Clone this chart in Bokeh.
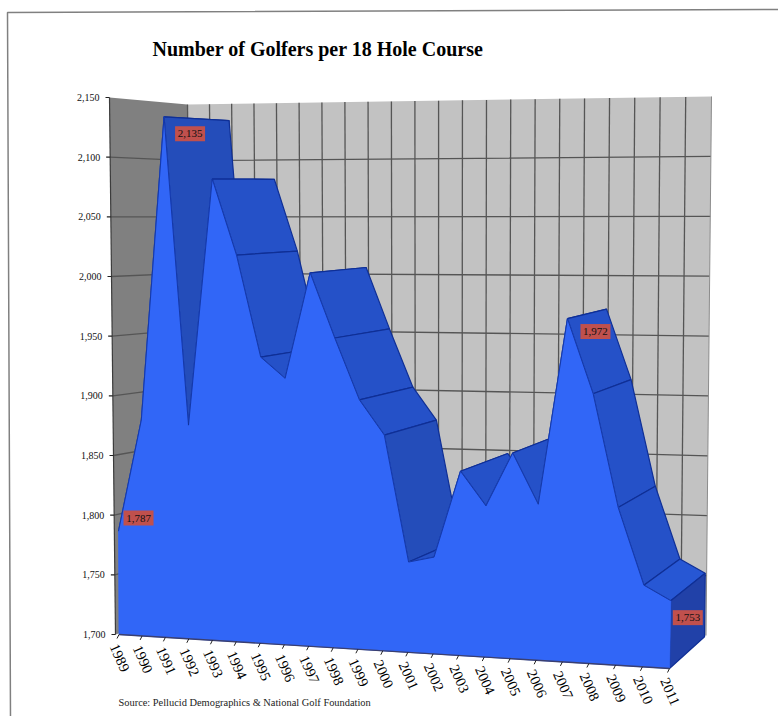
from bokeh.core.properties import value
from bokeh.embed import file_html
from bokeh.models import ColumnDataSource, Range1d
from bokeh.plotting import figure
from bokeh.resources import INLINE

TITLE = "Number of Golfers per 18 Hole Course"
SOURCE_NOTE = "Source:  Pellucid Demographics & National Golf Foundation"
years = [1989, 1990, 1991, 1992, 1993, 1994, 1995, 1996, 1997, 1998, 1999, 2000,
         2001, 2002, 2003, 2004, 2005, 2006, 2007, 2008, 2009, 2010, 2011]
golfers = [1787, 1881, 2135, 1878, 2083, 2020, 1936, 1919, 2006, 1953, 1903, 1875,
           1773, 1778, 1848, 1821, 1864, 1824, 1972, 1913, 1824, 1764, 1753]
labelled_years = [1989, 1991, 2007, 2011]
label_texts = ["1,787", "2,135", "1,972", "1,753"]
y_ticks = [1700, 1750, 1800, 1850, 1900, 1950, 2000, 2050, 2100, 2150]
y_tick_labels = ["1,700", "1,750", "1,800", "1,850", "1,900", "1,950", "2,000", "2,050", "2,100", "2,150"]

SERIF = value("Liberation Serif")
FRONT = "#3166F7"
TOP = "#2551C8"
TOP_DEEP = "#244DBA"
TOP_END = "#2757D4"
SIDE = "#2141A8"
EDGE = "#0F2F96"
WALL_BACK = "#C2C2C2"
WALL_LEFT = "#808080"
GRID = "#555555"
LABEL_BOX = "#C0504D"

V_MIN, V_MAX = y_ticks[0], y_ticks[-1]
LAST = len(years) - 1
# Pixel positions of the perspective box: (bottom-left, bottom-right, top-left, top-right).
FRONT_PLANE = ((118.5, 634), (669, 668), (116, 99), (680, 92))
BACK_PLANE = ((192, 610), (705.5, 635), (187, 104), (711, 96))
WALL_FRONT_EDGE = ((115, 634), (109, 97))
DEPTH = 0.96


def warp(t, a):
    return a * t / (1 + (a - 1) * t)


def on_plane(plane, t, u):
    bl, br, tl, tr = plane
    low = [bl[k] + (br[k] - bl[k]) * t for k in (0, 1)]
    high = [tl[k] + (tr[k] - tl[k]) * t for k in (0, 1)]
    return [low[k] + (high[k] - low[k]) * u for k in (0, 1)]


def project(i, v, d=0.0):
    """Map category index, value and depth (0 front, 1 back wall) to page position."""
    t = warp(i / LAST, 0.92)
    u = (v - V_MIN) / (V_MAX - V_MIN)
    f = on_plane(FRONT_PLANE, t, u)
    b = on_plane(BACK_PLANE, t, u)
    return f[0] + (b[0] - f[0]) * d, f[1] + (b[1] - f[1]) * d


def wall_edge(v):
    u = (v - V_MIN) / (V_MAX - V_MIN)
    (x0, y0), (x1, y1) = WALL_FRONT_EDGE
    return x0 + (x1 - x0) * u, y0 + (y1 - y0) * u


p = figure(width=778, height=716, output_backend="svg", toolbar_location=None,
           x_range=Range1d(0, 778), y_range=Range1d(716, 0),
           min_border=0, outline_line_color=None)
p.axis.visible = False
p.grid.visible = False

# Outer frame of the slide
p.line([10, 7, 778], [716, 12, 9], line_color="#808080", line_width=1.5)

# Walls
lw = [wall_edge(V_MIN), project(0, V_MIN, 1), project(0, V_MAX, 1), wall_edge(V_MAX)]
p.patch([q[0] for q in lw], [q[1] for q in lw], fill_color=WALL_LEFT, line_color=None)
bw = [project(0, V_MIN, 1), project(LAST, V_MIN, 1), project(LAST, V_MAX, 1), project(0, V_MAX, 1)]
p.patch([q[0] for q in bw], [q[1] for q in bw], fill_color=WALL_BACK, line_color=None)

# Wall grid
for v in y_ticks[1:-1]:
    a, b, c = wall_edge(v), project(0, v, 1), project(LAST, v, 1)
    p.line([a[0], b[0], c[0]], [a[1], b[1], c[1]], line_color=GRID, line_width=1.3)
for i in range(LAST):
    a, b = project(i, V_MIN, 1), project(i, V_MAX, 1)
    p.line([a[0], b[0]], [a[1], b[1]], line_color=GRID, line_width=1.3)
a, b = project(LAST, V_MIN, 1), project(LAST, V_MAX, 1)
p.line([a[0], b[0]], [a[1], b[1]], line_color="#8C8C8C", line_width=1)
a, b = wall_edge(V_MIN), wall_edge(V_MAX)
p.line([a[0], b[0]], [a[1], b[1]], line_color="#3C3C3C", line_width=1.2)
for v in y_ticks:
    a = wall_edge(v)
    p.line([a[0] - 4, a[0]], [a[1], a[1]], line_color="#222222", line_width=1.1)

# Upper surface of the area, drawn from left to right so nearer faces cover farther ones
for i in range(LAST):
    v0, v1 = golfers[i], golfers[i + 1]
    quad = [project(i, v0), project(i + 1, v1), project(i + 1, v1, DEPTH), project(i, v0, DEPTH)]
    colour = TOP_END if i == LAST - 1 else (TOP_DEEP if v1 < v0 - 100 else TOP)
    p.patch([q[0] for q in quad], [q[1] for q in quad], fill_color=colour,
            line_color=EDGE, line_width=1.2)

# End face of the area
end = [project(LAST, V_MIN), project(LAST, golfers[-1]), project(LAST, golfers[-1], DEPTH),
       project(LAST, V_MIN, DEPTH)]
p.patch([q[0] for q in end], [q[1] for q in end], fill_color=SIDE, line_color=EDGE, line_width=1.2)

# Front face of the area
front = [project(0, V_MIN)] + [project(i, g) for i, g in enumerate(golfers)] + [project(LAST, V_MIN)]
p.patch([q[0] for q in front], [q[1] for q in front], fill_color=FRONT, line_color=FRONT, line_width=0.8)
p.line([q[0] for q in front[1:-1]], [q[1] for q in front[1:-1]], line_color=EDGE, line_width=0.8)
p.line([front[0][0], front[-1][0]], [front[0][1], front[-1][1]], line_color="#3A3F70", line_width=1.4)

# Year ticks and labels
for i, year in enumerate(years):
    x, y = project(i, V_MIN)
    p.line([x, x - 2], [y, y + 4], line_color="#222222", line_width=1)
    p.text([x - 5], [y + 10], text=[str(year)], angle=-66, angle_units="deg",
           text_font=SERIF, text_font_size="14.5px", text_color="black",
           text_align="left", text_baseline="middle")

# Value labels on the left
for v, s in zip(y_ticks, y_tick_labels):
    x, y = wall_edge(v)
    p.text([x - 10], [y], text=[s], text_font=SERIF, text_font_size="10px", text_color="#111111",
           text_align="right", text_baseline="middle")

# Data labels in red boxes, placed near their points
offsets = {1989: (20, -13), 1991: (26, 17), 2007: (28, 13), 2011: (17, 17)}
for year, s in zip(labelled_years, label_texts):
    i = years.index(year)
    x, y = project(i, golfers[i])
    x += offsets[year][0]
    y += offsets[year][1]
    src = ColumnDataSource(dict(x=[x], y=[y], t=[s]))
    p.rect("x", "y", width=30, height=15, source=src, fill_color=LABEL_BOX, line_color=None)
    p.text("x", "y", text="t", source=src, text_font=SERIF, text_font_size="11px",
           text_color="#111111", text_align="center", text_baseline="middle")

# Title and source note
p.text([152], [48], text=[TITLE], text_font=SERIF, text_font_style="bold", text_font_size="20px",
       text_color="black", text_align="left", text_baseline="middle")
p.text([118], [702], text=[SOURCE_NOTE], text_font=SERIF, text_font_size="10.4px",
       text_color="#222222", text_align="left", text_baseline="middle")

open("out.html", "w").write(file_html(p, INLINE))
